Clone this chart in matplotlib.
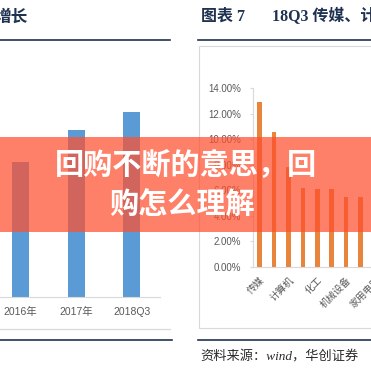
import matplotlib
matplotlib.use("Agg")
import matplotlib.pyplot as plt
from matplotlib.patches import Rectangle
from matplotlib.lines import Line2D

# left panel: yearly totals (scale not shown in the crop)
years = ["2016年", "2017年", "2018Q3"]
year_vals = [73, 90, 100]

# right panel: 18Q3 share by industry, only every other label is printed
industries = ["传媒", "", "计算机", "", "化工", "", "机械设备", "", "家用电器"]
shares = [12.88, 10.53, 7.85, 6.20, 6.10, 6.07, 5.50, 5.50, 5.30]
share_ticks = [0, 2, 4, 6, 8, 10, 12, 14]

W = H = 371
NAVY = "#1F3251"
GRAY = "#595959"
LGRAY = "#D9D9D9"
CJK = ["Noto Sans CJK SC", "DejaVu Sans"]
SANS = ["Liberation Sans", "Noto Sans CJK SC"]
SERIF = ["Liberation Serif", "Noto Sans CJK SC"]

def box(x0, y0, x1, y1):
    # pixel box (top-left origin) -> figure rect
    return [x0 / W, 1 - y1 / H, (x1 - x0) / W, (y1 - y0) / H]

def hline(fig, x0, x1, y, color, lw):
    fig.add_artist(Line2D([x0 / W, x1 / W], [1 - y / H, 1 - y / H], color=color, lw=lw,
                          transform=fig.transFigure))

fig = plt.figure(figsize=(3.71, 3.71), dpi=100)
fig.patch.set_facecolor("white")

# ---- left panel
ax1 = fig.add_axes(box(0, 60, 160, 297))
ax1.bar(range(len(years)), year_vals, width=0.31, color="#5B9BD5")
ax1.set_xlim(-0.37, 2.51); ax1.set_ylim(0, 128)
ax1.set_xticks(range(len(years)))
ax1.set_xticklabels(years, family=SANS, fontsize=7.5, color=GRAY)
ax1.tick_params(axis="x", length=0, pad=7)
ax1.set_yticks([])
for s in ["left", "right", "top"]: ax1.spines[s].set_visible(False)
ax1.spines["bottom"].set_color(LGRAY); ax1.spines["bottom"].set_linewidth(0.8)

fig.text(28 / W, 1 - 17 / H, "增长", ha="right", va="center", fontsize=12, fontweight="bold",
         color=NAVY, family=CJK)
hline(fig, 0, 170, 39.5, NAVY, 1.2)
hline(fig, 0, 170, 329, LGRAY, 0.9)
hline(fig, 0, 172, 340, NAVY, 1.2)

# ---- right panel
fig.add_artist(Rectangle((199 / W, 1 - 328 / H), 200 / W, 282 / H, transform=fig.transFigure,
                         facecolor="none", edgecolor=LGRAY, lw=0.8))
ax2 = fig.add_axes(box(253, 88, 383, 267))
ax2.bar(range(len(shares)), shares, width=0.31, color="#E9843C")
ax2.set_xlim(-0.45, 8.55); ax2.set_ylim(0, 14)
ax2.set_yticks(share_ticks)
ax2.set_yticklabels([f"{t:.2f}%" for t in share_ticks], family=SANS, fontsize=7, color=GRAY)
ax2.tick_params(axis="y", length=2.5, pad=6, color=LGRAY)
ax2.set_xticks(range(len(industries)))
ax2.set_xticklabels(industries, family=CJK, fontsize=7, color=GRAY, rotation=45,
                    ha="right", rotation_mode="anchor")
ax2.tick_params(axis="x", length=0, pad=6)
for s in ["right", "top"]: ax2.spines[s].set_visible(False)
for s in ["left", "bottom"]:
    ax2.spines[s].set_color(LGRAY); ax2.spines[s].set_linewidth(0.8)

fig.text(201 / W, 1 - 17 / H, "图表 7", ha="left", va="center", fontsize=11.5, fontweight="bold",
         color=NAVY, family=SERIF)
fig.text(272 / W, 1 - 17 / H, "18Q3 传媒、计算机等行业回购占比", ha="left", va="center",
         fontsize=11.5, fontweight="bold", color=NAVY, family=SERIF)
hline(fig, 198, 371, 40, NAVY, 1.2)
hline(fig, 198, 371, 340, NAVY, 1.2)
fig.text(200 / W, 1 - 357 / H, "资料来源：wind，华创证券", ha="left", va="center", fontsize=9.5,
         color="#2B2B2B", family=SERIF, fontstyle="italic")

# ---- overlay banner
fig.add_artist(Rectangle((0, 1 - 232 / H), 1, 95 / H, transform=fig.transFigure,
                         facecolor="#FF4F2E", alpha=0.72, lw=0, zorder=5))
fig.text(186 / W, 1 - 166 / H, "回购不断的意思，回", ha="center", va="center", fontsize=21,
         fontweight="heavy", color="white", family=CJK, zorder=6)
fig.text(182 / W, 1 - 205 / H, "购怎么理解", ha="center", va="center", fontsize=21,
         fontweight="heavy", color="white", family=CJK, zorder=6)

fig.savefig("out.png", dpi=100)
